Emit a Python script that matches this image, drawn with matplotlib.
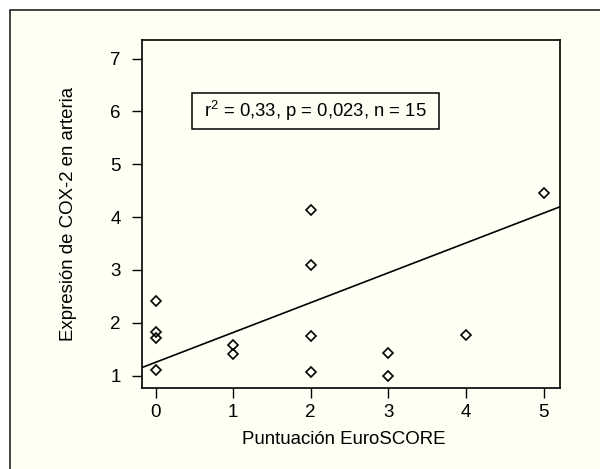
import numpy as np
import matplotlib
matplotlib.use("Agg")
import matplotlib.pyplot as plt
from matplotlib.patches import Rectangle

plt.rcParams['font.family'] = ['Liberation Sans', 'DejaVu Sans']
plt.rcParams['mathtext.fontset'] = 'custom'
plt.rcParams['mathtext.rm'] = 'Liberation Sans'

# data
euroscore = [0, 0, 0, 0, 1, 1, 2, 2, 2, 2, 3, 3, 4, 5]
cox2 = [2.42, 1.82, 1.72, 1.10, 1.58, 1.40, 4.13, 3.10, 1.74, 1.06, 1.43, 1.00, 1.76, 4.46]
intercept = 1.25
slope = 0.565
xticks = [0, 1, 2, 3, 4, 5]
yticks = [1, 2, 3, 4, 5, 6, 7]
stats_text = r"r$^{\mathrm{2}}$ = 0,33, p = 0,023, n = 15"

bg = '#fffff3'

fig = plt.figure(figsize=(6, 4.69), dpi=100)
fig.patch.set_facecolor('white')

# outer frame of the panel
frame = Rectangle((10 / 600, -0.05), 1.0, 1 - 10 / 469 + 0.05,
                  transform=fig.transFigure, facecolor=bg,
                  edgecolor='#222222', linewidth=1.2, zorder=-10)
fig.patches.append(frame)

ax = fig.add_axes([0.236, 0.1734, 0.697, 0.741])
ax.set_facecolor(bg)

ax.plot(euroscore, cox2, linestyle='none', marker='D', markersize=5.6,
        markerfacecolor='none', markeredgecolor='black', markeredgewidth=1.2)

xs = np.array([-0.18, 5.21])
ax.plot(xs, intercept + slope * xs, color='black', linewidth=1.2)

ax.set_xlim(-0.18, 5.21)
ax.set_ylim(0.77, 7.35)
ax.set_xticks(xticks)
ax.set_yticks(yticks)
ax.tick_params(direction='out', length=7, width=1, labelsize=13.5, colors='black')
ax.tick_params(axis='y', pad=8)
ax.tick_params(axis='x', pad=5)
for s in ax.spines.values():
    s.set_linewidth(1.2)

ax.set_xlabel("Puntuación EuroSCORE", fontsize=13.4, labelpad=8)
ax.xaxis.set_label_coords(0.483, -0.125)
ax.set_ylabel("Expresión de COX-2 en arteria", fontsize=13.4, labelpad=24)

ax.add_patch(Rectangle((0.121, 0.743), 0.590, 0.104, transform=ax.transAxes,
                       facecolor='none', edgecolor='black', linewidth=1.1))
ax.text(0.416, 0.795, stats_text, transform=ax.transAxes, ha='center',
        va='center', fontsize=13.3)

fig.savefig('out.png', dpi=100, facecolor=fig.get_facecolor())
